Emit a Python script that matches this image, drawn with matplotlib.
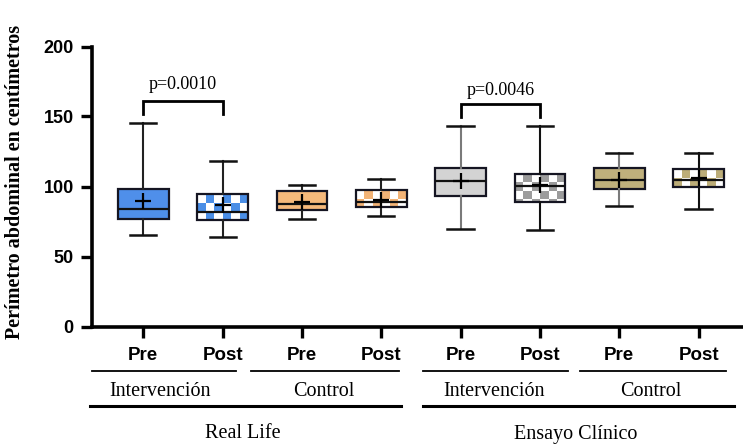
import numpy as np
import matplotlib
matplotlib.use("Agg")
import matplotlib.pyplot as plt
from matplotlib.patches import Rectangle
from matplotlib.transforms import blended_transform_factory

# values (cm)
labels = ["Pre", "Post", "Pre", "Post", "Pre", "Post", "Pre", "Post"]
whis_lo = [65.2, 64.0, 76.8, 78.7, 70.0, 68.8, 85.8, 83.7]
q1 = [77.1, 75.9, 83.5, 85.3, 92.9, 88.9, 97.9, 99.5]
median = [84.2, 81.8, 87.2, 88.9, 103.8, 100.7, 104.3, 105.0]
q3 = [97.9, 94.3, 96.7, 97.2, 113.0, 109.0, 113.0, 112.3]
whis_hi = [145.6, 118.4, 101.4, 105.4, 143.3, 143.3, 123.6, 123.6]
means = [90.0, 86.5, 88.9, 90.5, 104.0, 101.0, 105.0, 106.0]

groups = ["Intervención", "Control", "Intervención", "Control"]
studies = ["Real Life", "Ensayo Clínico"]
p_values = ["p=0.0010", "p=0.0046"]

# style
fill = ["#4f8fea", "#4a8ee6", "#f5b97b", "#f2b376",
        "#d3d3d3", "#9c9c9c", "#bfb07c", "#bcad78"]
checker = [False, True, False, True, False, True, False, True]
whisker_col = ["#222222", "#222222", "#222222", "#222222",
               "#7a7a7a", "#111111", "#7a7a7a", "#111111"]

W, H = 743, 444
fig = plt.figure(figsize=(W / 100, H / 100), dpi=100)
ax_left, ax_bot, ax_right, ax_top = 91.7, 326.5, 743, 46.5
ax = fig.add_axes([ax_left / W, 1 - ax_bot / H, (ax_right - ax_left) / W,
                   (ax_bot - ax_top) / H])

pos = np.arange(1, len(labels) + 1)
stats = []
for i in range(len(labels)):
    stats.append(dict(whislo=whis_lo[i], q1=q1[i], med=median[i], q3=q3[i],
                      whishi=whis_hi[i], mean=means[i], fliers=[]))

bw = 0.64
bp = ax.bxp(stats, positions=pos, widths=bw, patch_artist=True,
            showmeans=True, showfliers=False,
            boxprops=dict(linewidth=1.6, edgecolor="#151522"),
            medianprops=dict(color="#111111", linewidth=1.6),
            capwidths=0.33,
            meanprops=dict(marker="+", markersize=11, markeredgecolor="black",
                           markeredgewidth=1.6))

# cell size of the check pattern, about 8.5 px
dx = 8.5 / 79.3
dy = 8.5 / 1.40
for i, patch in enumerate(bp["boxes"]):
    for k in (2 * i, 2 * i + 1):
        bp["whiskers"][k].set_color(whisker_col[i])
        bp["whiskers"][k].set_linewidth(1.5)
        bp["caps"][k].set_color("#111111")
        bp["caps"][k].set_linewidth(1.8)
    if not checker[i]:
        patch.set_facecolor(fill[i])
        continue
    patch.set_facecolor("none")
    x0 = pos[i] - bw / 2
    ncol = int(np.ceil(bw / dx))
    nrow = int(np.ceil((q3[i] - q1[i]) / dy))
    for r in range(nrow):
        for c in range(ncol):
            if (r + c) % 2 == 0:
                continue
            cell = Rectangle((x0 + c * dx, q3[i] - (r + 1) * dy), dx, dy,
                             facecolor=fill[i], edgecolor="none",
                             antialiased=False, zorder=1.5)
            ax.add_patch(cell)
            cell.set_clip_path(patch)

ax.set_xlim(0.35, 8.56)
ax.set_ylim(0, 200)

# significance brackets
for (a, b), txt, top, leg, ty in zip([(1, 2), (5, 6)], p_values,
                                     [161, 158.6], [151.6, 149.6],
                                     [166.5, 162.5]):
    ax.plot([a, a, b, b], [leg, top, top, leg], color="black", lw=2.0,
            solid_joinstyle="miter", clip_on=False)
    ax.text((a + b) / 2, ty, txt, ha="center", va="bottom",
            family="Liberation Serif", fontsize=13)

for s in ["top", "right"]:
    ax.spines[s].set_visible(False)
for s in ["left", "bottom"]:
    ax.spines[s].set_linewidth(2.6)

ax.set_yticks([0, 50, 100, 150, 200])
ax.set_xticks(pos)
ax.set_xticklabels(labels)
ax.tick_params(axis="both", length=8, width=2.4)
ax.tick_params(axis="y", pad=5)
ax.tick_params(axis="x", pad=7)
for t in ax.get_yticklabels():
    t.set_family("Liberation Sans")
    t.set_fontweight("bold")
    t.set_fontsize(13)
for t in ax.get_xticklabels():
    t.set_family("Liberation Sans")
    t.set_fontweight("bold")
    t.set_fontsize(13.5)

# group annotations under the axis
tr = blended_transform_factory(ax.transData, ax.transAxes)
def yfrac(py):
    return (ax_bot - py) / (ax_bot - ax_top)

group_spans = [(0.35, 2.17), (2.36, 4.22), (4.53, 6.36), (6.51, 8.34)]
group_centers = [1.21, 3.28, 5.42, 7.40]
study_spans = [(0.33, 4.25), (4.53, 8.45)]
study_centers = [2.25, 6.45]

for (a, b), c, name in zip(group_spans, group_centers, groups):
    ax.plot([a, b], [yfrac(371)] * 2, color="black", lw=1.3,
            transform=tr, clip_on=False)
    ax.text(c, yfrac(396.5), name, transform=tr, ha="center", va="baseline",
            family="Liberation Serif", fontsize=14.5)

for (a, b), c, name in zip(study_spans, study_centers, studies):
    ax.plot([a, b], [yfrac(406)] * 2, color="black", lw=2.2,
            transform=tr, clip_on=False)
    ax.text(c, yfrac(438.5), name, transform=tr, ha="center", va="baseline",
            family="Liberation Serif", fontsize=14.5)

fig.text(15 / W, 1 - 182 / H, "Perímetro abdominal en centímetros",
         rotation=90, ha="center", va="center", family="Liberation Serif",
         fontweight="bold", fontsize=14.5)

fig.savefig("out.png", dpi=100)
